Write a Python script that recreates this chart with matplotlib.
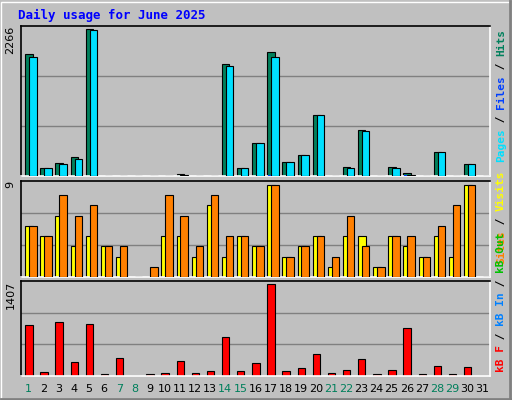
import matplotlib
matplotlib.use("Agg")
import matplotlib.pyplot as plt
import numpy as np

days = list(range(1, 32))
weekend = [1, 7, 8, 14, 15, 21, 22, 28, 29]

hits = [1885, 124, 201, 294, 2266, 5, 5, 0, 5, 5, 30, 5, 5, 1730, 124, 510,
        1916, 216, 324, 942, 5, 139, 711, 5, 139, 46, 5, 371, 5, 185, 0]
files = [1833, 124, 180, 257, 2250, 0, 0, 0, 0, 0, 10, 0, 0, 1694, 124, 510,
         1838, 216, 324, 942, 0, 118, 690, 0, 118, 20, 0, 371, 0, 185, 0]
pages = [3, 2, 4, 3, 5, 0, 0, 0, 0, 0, 2, 0, 0, 3, 2, 3,
         20, 3, 3, 4, 0, 3, 4, 0, 3, 8, 0, 3, 0, 5, 0]
visits = [5, 4, 6, 3, 4, 3, 2, 0, 0, 4, 4, 2, 7, 2, 4, 3,
          9, 2, 3, 4, 1, 4, 4, 1, 4, 3, 2, 4, 2, 9, 0]
sites = [5, 4, 8, 6, 7, 3, 3, 0, 1, 8, 6, 3, 8, 4, 4, 3,
         9, 2, 3, 4, 2, 6, 3, 1, 4, 4, 2, 5, 7, 9, 0]
kbytes = [775, 67, 822, 221, 791, 26, 282, 0, 26, 51, 236, 51, 82, 590, 82, 205,
          1407, 82, 128, 344, 51, 98, 267, 26, 98, 729, 36, 159, 36, 144, 0]

BG = "#C0C0C0"
W, H = 512, 400
fig = plt.figure(figsize=(W / 100, H / 100), dpi=100)
fig.patch.set_facecolor(BG)

def panel(top, bottom):
    ax = fig.add_axes([21 / W, 1 - bottom / H, 469 / W, (bottom - top) / H])
    ax.set_facecolor(BG)
    ax.set_xlim(0, 31)
    for s in ax.spines.values():
        s.set_linewidth(1.2)
    ax.spines["top"].set_color("black")
    ax.spines["left"].set_color("black")
    ax.spines["bottom"].set_color("white")
    ax.spines["right"].set_color("white")
    ax.set_xticks([])
    ax.set_yticks([])
    return ax

def grid(ax, top):
    for f in (1 / 3, 2 / 3):
        ax.axhline(top * f, color="#808080", lw=1, zorder=0)

x = np.arange(31)

# top panel: hits / files / pages
ax1 = panel(26, 176)
top1 = 2266 * 150 / 147
ax1.set_ylim(0, top1)
grid(ax1, top1)
ax1.bar(x + 0.28, hits, 0.49, align="edge", color="#00805C", edgecolor="black", lw=0.8, zorder=2)
ax1.bar(x + 0.54, files, 0.49, align="edge", color="#00E0FF", edgecolor="black", lw=0.8, zorder=3)
ax1.bar(x + 0.3, pages, 0.2, align="edge", color="#0040FF", lw=0, zorder=4)
ax1.text(-0.012, 1, "2266", transform=ax1.transAxes, rotation=90, ha="right", va="top", fontsize=8)

# middle panel: visits / sites
ax2 = panel(181, 277)
top2 = 9 * 96 / 92
ax2.set_ylim(0, top2)
grid(ax2, top2)
ax2.bar(x + 0.28, visits, 0.54, align="edge", color="#FFFF00", edgecolor="black", lw=0.8, zorder=2)
ax2.bar(x + 0.54, sites, 0.49, align="edge", color="#FF8000", edgecolor="black", lw=0.8, zorder=3)
ax2.text(-0.012, 1, "9", transform=ax2.transAxes, rotation=90, ha="right", va="top", fontsize=8)

# bottom panel: kbytes
ax3 = panel(281, 376)
top3 = 1407 * 95 / 92
ax3.set_ylim(0, top3)
grid(ax3, top3)
ax3.bar(x + 0.28, kbytes, 0.49, align="edge", color="#FF0000", edgecolor="black", lw=0.8, zorder=2)
ax3.text(-0.012, 1, "1407", transform=ax3.transAxes, rotation=90, ha="right", va="top", fontsize=8)

for d in days:
    ax3.text(d - 0.5, -0.14, str(d), transform=ax3.get_xaxis_transform(), ha="center", va="center",
             fontsize=8, color="#00805C" if d in weekend else "black")

fig.text(18 / W, 1 - 15 / H, "Daily usage for June 2025", fontsize=9, fontweight="bold",
         family="DejaVu Sans Mono", color="#0000FF", va="center")

# rotated side labels, stacked bottom-to-top
CH = 6.6  # px per character
def side(parts, ybottom):
    y = ybottom
    for txt, col in parts:
        fig.text(501 / W, 1 - y / H, txt, rotation=90, ha="center", va="bottom", fontsize=8,
                 family="DejaVu Sans Mono", fontweight="bold", color=col)
        y -= len(txt) * CH

side([("Pages", "#00E0FF"), (" / ", "black"), ("Files", "#0040FF"), (" / ", "black"), ("Hits", "#00805C")], 162)
side([("Sites", "#FF8000"), (" / ", "black"), ("Visits", "#FFFF00")], 264)
side([("kB F", "#FF0000"), (" / ", "black"), ("kB In", "#0080FF"), (" / ", "black"), ("kB Out", "#00C000")], 372)

# outer bevel
fig.add_artist(plt.Rectangle((1 / W, 1 / H), 1 - 3 / W, 1 - 3 / H, transform=fig.transFigure,
                             fill=False, ec="white", lw=1))
fig.add_artist(plt.Line2D([1 / W, 1 - 2 / W], [1 / H, 1 / H], transform=fig.transFigure, color="#808080", lw=2))
fig.add_artist(plt.Line2D([1 - 2 / W, 1 - 2 / W], [1 / H, 1 - 1 / H], transform=fig.transFigure, color="#808080", lw=2))

fig.savefig("out.png", dpi=100, facecolor=BG)
